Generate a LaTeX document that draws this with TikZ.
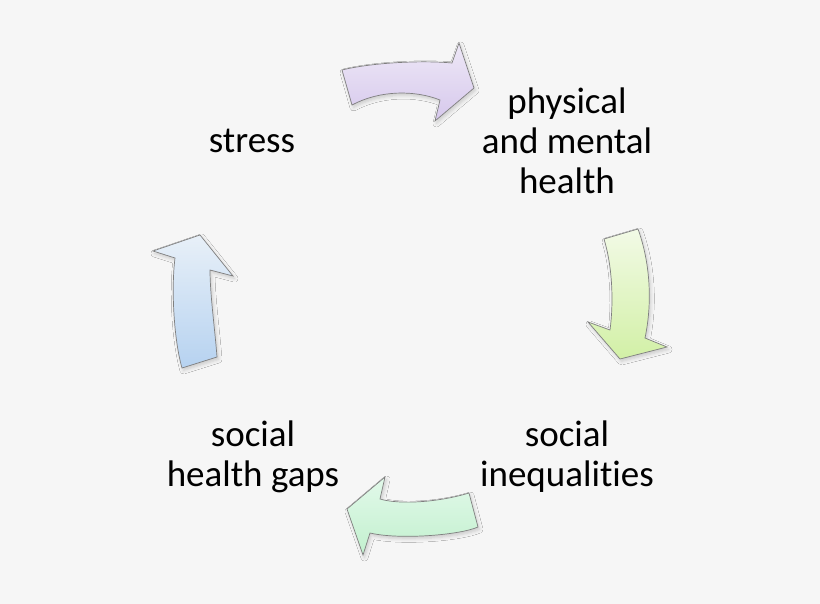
\documentclass[tikz,border=0pt]{standalone}
\usepackage{fontspec}
\setmainfont{Carlito}[Ligatures=NoCommon]
\usetikzlibrary{shadows.blur}
\definecolor{bg}{HTML}{F6F6F6}
\definecolor{purpT}{HTML}{EEE8F7}
\definecolor{purpB}{HTML}{D6C8EC}
\definecolor{limeT}{HTML}{F2FAE6}
\definecolor{limeB}{HTML}{D2F0A6}
\definecolor{mintT}{HTML}{E2F9EA}
\definecolor{mintB}{HTML}{C2F0CE}
\definecolor{bluT}{HTML}{E8F0F8}
\definecolor{bluB}{HTML}{B6D2F0}
\definecolor{edge}{HTML}{7F7F7F}
\tikzset{
  cyclearrow/.style={draw=edge, line width=0.7pt, line join=miter,
    blur shadow={shadow xshift=1.5pt, shadow yshift=-2.5pt, shadow blur radius=3.5pt, shadow opacity=18}},
  lbl/.style={font=\fontsize{37}{40}\selectfont, align=center, inner sep=0pt, text=black}
}
\begin{document}
\begin{tikzpicture}[x=1pt,y=-1pt]
\fill[bg] (0,0) rectangle (820,604);
\useasboundingbox (0,0) rectangle (820,604);

% top arrow (purple)
\path[cyclearrow, top color=purpT, bottom color=purpB]
  (342,70) .. controls (370,63) and (420,60) .. (452,63)
  -- (459,43) -- (474,88) -- (435,121) -- (440,100)
  .. controls (415,90) and (380,90) .. (352,105) -- cycle;

% right arrow (lime)
\path[cyclearrow, top color=limeT, bottom color=limeB]
  (604,239) -- (638,229)
  .. controls (651,265) and (652,305) .. (645,338)
  -- (667,347) -- (620,359) -- (588,322) -- (610,330)
  .. controls (614,300) and (612,265) .. (604,239) -- cycle;

% bottom arrow (mint)
\path[cyclearrow, top color=mintT, bottom color=mintB]
  (469,493) -- (478,527)
  .. controls (460,535) and (400,540) .. (370,533)
  -- (363,555) -- (347,509) -- (385,477) -- (380,499)
  .. controls (400,505) and (440,502) .. (469,493) -- cycle;

% left arrow (blue)
\path[cyclearrow, top color=bluT, bottom color=bluB]
  (182,368) -- (217,357)
  .. controls (215,330) and (210,295) .. (210,270)
  -- (233,276) -- (200,235) -- (153,251) -- (175,258)
  .. controls (171,290) and (174,340) .. (182,368) -- cycle;

\node[lbl, anchor=base] (stress) at (252,152.5) {stress};
\node[lbl, anchor=base] (health) at (567,194) {physical\\and mental\\health};
\node[lbl, anchor=base] (ineq) at (567,486.5) {social\\inequalities};
\node[lbl, anchor=base] (gaps) at (253,486.5) {social\\health gaps};
\end{tikzpicture}
\end{document}
